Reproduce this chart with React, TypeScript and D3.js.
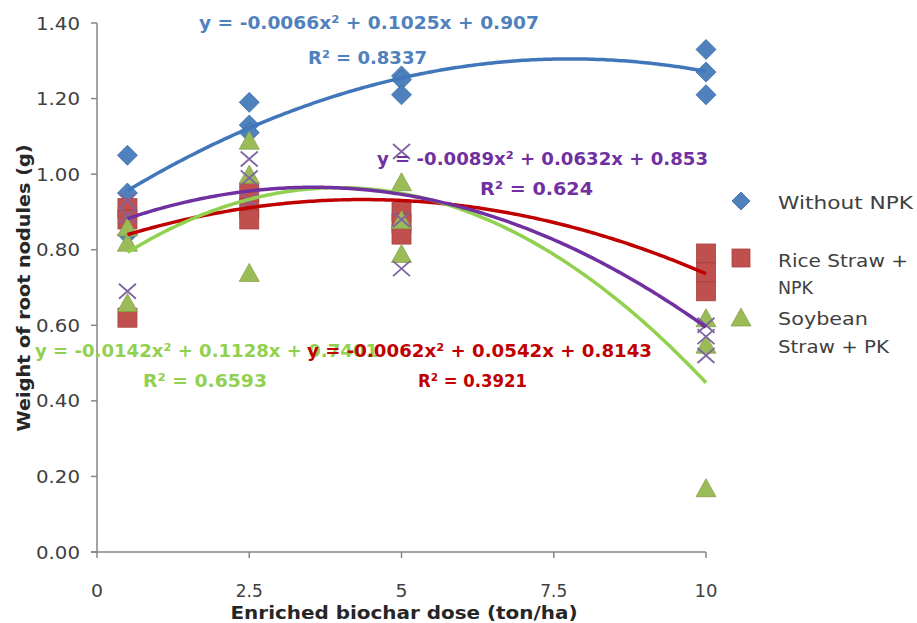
import React from "react";
import * as d3 from "d3";

// ---- data ----
const doses = [0.5, 2.5, 5, 10];
const withoutNPK = [
  [1.05, 0.95, 0.84],
  [1.19, 1.13, 1.11],
  [1.26, 1.25, 1.21],
  [1.33, 1.27, 1.21],
];
const riceStrawNPK = [
  [0.91, 0.88, 0.62],
  [0.95, 0.91, 0.88],
  [0.9, 0.87, 0.84],
  [0.79, 0.74, 0.69],
];
const soybeanStrawPK = [
  [0.86, 0.82, 0.66],
  [1.09, 1.0, 0.74],
  [0.98, 0.88, 0.79],
  [0.62, 0.55, 0.17],
];
const fourthSeries = [
  [0.69, 0.93, 0.89],
  [1.04, 0.99, 0.93],
  [1.06, 0.75, 0.88],
  [0.6, 0.57, 0.52],
];
const coefWithout = [-0.0066, 0.1025, 0.907];
const coefRice = [-0.0062, 0.0542, 0.8143];
const coefSoy = [-0.0142, 0.1128, 0.7401];
const coefFourth = [-0.0089, 0.0632, 0.853];
const xTicks = [0, 2.5, 5, 7.5, 10];
const yTicks = [0, 0.2, 0.4, 0.6, 0.8, 1.0, 1.2, 1.4];
const legendLabels = [["Without NPK"], ["Rice Straw +", "NPK"], ["Soybean", "Straw + PK"]];
const eqWithout = ["y = -0.0066x² + 0.1025x + 0.907", "R² = 0.8337"];
const eqFourth = ["y = -0.0089x² + 0.0632x + 0.853", "R² = 0.624"];
const eqSoy = ["y = -0.0142x² + 0.1128x + 0.7401", "R² = 0.6593"];
const eqRice = ["y = -0.0062x² + 0.0542x + 0.8143", "R² = 0.3921"];

const W = 917;
const H = 623;
const x = d3.scaleLinear().domain([0, 10]).range([97, 706]);
const y = d3.scaleLinear().domain([0, 1.4]).range([552, 23]);

const FONT = "'DejaVu Sans', sans-serif";
const AXIS = "#868686";

const C = {
  blue: "#4F81BD",
  blueLine: "#4177BA",
  red: "#C0504D",
  redLine: "#C00000",
  green: "#9BBB59",
  greenLine: "#92D050",
  purple: "#8064A2",
  purpleLine: "#7030A0",
};

function curve(coef: number[]) {
  const pts = d3.range(0.5, 10.0001, 0.05).map((v) => [v, coef[0] * v * v + coef[1] * v + coef[2]]);
  return d3
    .line<number[]>()
    .x((d) => x(d[0]))
    .y((d) => y(d[1]))
    .curve(d3.curveLinear)(pts) as string;
}

function flat(vals: number[][]) {
  const out: [number, number][] = [];
  vals.forEach((arr, i) => arr.forEach((v) => out.push([doses[i], v])));
  return out;
}

const Diamond = ({ cx, cy, r = 10 }: any) => (
  <path
    d={`M${cx},${cy - r}L${cx + r},${cy}L${cx},${cy + r}L${cx - r},${cy}Z`}
    fill={C.blue}
    stroke="#3A6DA8"
    strokeWidth={0.8}
  />
);
const Square = ({ cx, cy, s = 19 }: any) => (
  <rect x={cx - s / 2} y={cy - s / 2} width={s} height={s} fill={C.red} stroke="#A6403D" strokeWidth={0.8} />
);
const Tri = ({ cx, cy, w = 20, h = 18 }: any) => (
  <path
    d={`M${cx},${cy - h / 2}L${cx + w / 2},${cy + h / 2}L${cx - w / 2},${cy + h / 2}Z`}
    fill={C.green}
    stroke="#86A34A"
    strokeWidth={0.8}
  />
);
const Cross = ({ cx, cy, w = 17, h = 15 }: any) => (
  <path
    d={`M${cx - w / 2},${cy - h / 2}L${cx + w / 2},${cy + h / 2}M${cx + w / 2},${cy - h / 2}L${cx - w / 2},${cy + h / 2}`}
    stroke={C.purple}
    strokeWidth={1.8}
    fill="none"
  />
);

const T = ({ x0, yc, text, width, size = 18, weight = "normal", fill = "#404040", anchor = "start" }: any) => (
  <text
    x={x0}
    y={yc}
    dominantBaseline="central"
    textAnchor={anchor}
    fontFamily={FONT}
    fontSize={size}
    fontWeight={weight}
    fill={fill}
    textLength={width}
    lengthAdjust="spacingAndGlyphs"
  >
    {text}
  </text>
);

export default function App() {
  return (
    <svg width={W} height={H} style={{ position: "absolute", left: 0, top: 0, background: "#fff" }}>
      <rect width={W} height={H} fill="#fff" />
      {/* axes */}
      <line x1={97} x2={97} y1={y(1.4)} y2={y(0)} stroke={AXIS} strokeWidth={1.5} />
      <line x1={91} x2={x(10)} y1={y(0)} y2={y(0)} stroke={AXIS} strokeWidth={1.5} />
      {yTicks.map((t) => (
        <g key={"y" + t}>
          <line x1={91} x2={97} y1={y(t)} y2={y(t)} stroke={AXIS} strokeWidth={1.5} />
          <T x0={80} yc={y(t)} text={t.toFixed(2)} width={44} size={18} anchor="end" fill="#404040" />
        </g>
      ))}
      {xTicks.map((t) => {
        const s = String(t);
        const w = s.length === 1 ? 12 : s.length === 2 ? 23 : 27;
        return (
          <g key={"x" + t}>
            <line x1={x(t)} x2={x(t)} y1={y(0)} y2={y(0) + 6} stroke={AXIS} strokeWidth={1.5} />
            <T x0={x(t)} yc={590} text={s} width={w} size={18} anchor="middle" fill="#404040" />
          </g>
        );
      })}
      <T x0={404} yc={612} text="Enriched biochar dose (ton/ha)" width={347} size={18} weight="bold" anchor="middle" fill="#262626" />
      <g transform="translate(23,288) rotate(-90)">
        <T x0={0} yc={0} text="Weight of root nodules (g)" width={287} size={18} weight="bold" anchor="middle" fill="#262626" />
      </g>

      {/* markers */}
      {flat(withoutNPK).map((d, i) => (
        <Diamond key={"b" + i} cx={x(d[0])} cy={y(d[1])} />
      ))}
      {flat(riceStrawNPK).map((d, i) => (
        <Square key={"r" + i} cx={x(d[0])} cy={y(d[1])} />
      ))}
      {flat(soybeanStrawPK).map((d, i) => (
        <Tri key={"g" + i} cx={x(d[0])} cy={y(d[1])} />
      ))}
      {flat(fourthSeries).map((d, i) => (
        <Cross key={"p" + i} cx={x(d[0])} cy={y(d[1])} />
      ))}

      {/* trendlines */}
      <path d={curve(coefRice)} stroke={C.redLine} strokeWidth={3.5} fill="none" />
      <path d={curve(coefSoy)} stroke={C.greenLine} strokeWidth={3.5} fill="none" />
      <path d={curve(coefFourth)} stroke={C.purpleLine} strokeWidth={3.5} fill="none" />
      <path d={curve(coefWithout)} stroke={C.blueLine} strokeWidth={3.5} fill="none" />

      {/* equations */}
      <T x0={199} yc={22} text={eqWithout[0]} width={340} size={18} weight="bold" fill="#4F81BD" />
      <T x0={308} yc={57} text={eqWithout[1]} width={119} size={18} weight="bold" fill="#4F81BD" />
      <T x0={377} yc={158} text={eqFourth[0]} width={331} size={18} weight="bold" fill={C.purpleLine} />
      <T x0={480} yc={188} text={eqFourth[1]} width={113} size={18} weight="bold" fill={C.purpleLine} />
      <T x0={35} yc={350} text={eqSoy[0]} width={343} size={18} weight="bold" fill={C.greenLine} />
      <T x0={143} yc={380} text={eqSoy[1]} width={124} size={18} weight="bold" fill={C.greenLine} />
      <T x0={307} yc={350} text={eqRice[0]} width={345} size={18} weight="bold" fill={C.redLine} />
      <T x0={418} yc={380} text={eqRice[1]} width={109} size={18} weight="bold" fill={C.redLine} />

      {/* legend */}
      <Diamond cx={741} cy={201} r={9} />
      <Square cx={741} cy={258} s={18} />
      <Tri cx={741} cy={317} w={20} h={18} />
      <T x0={778} yc={202} text={legendLabels[0][0]} width={135} size={18} />
      <T x0={778} yc={260} text={legendLabels[1][0]} width={130} size={18} />
      <T x0={778} yc={287} text={legendLabels[1][1]} width={35} size={18} />
      <T x0={778} yc={318} text={legendLabels[2][0]} width={90} size={18} />
      <T x0={778} yc={346} text={legendLabels[2][1]} width={111} size={18} />
    </svg>
  );
}
